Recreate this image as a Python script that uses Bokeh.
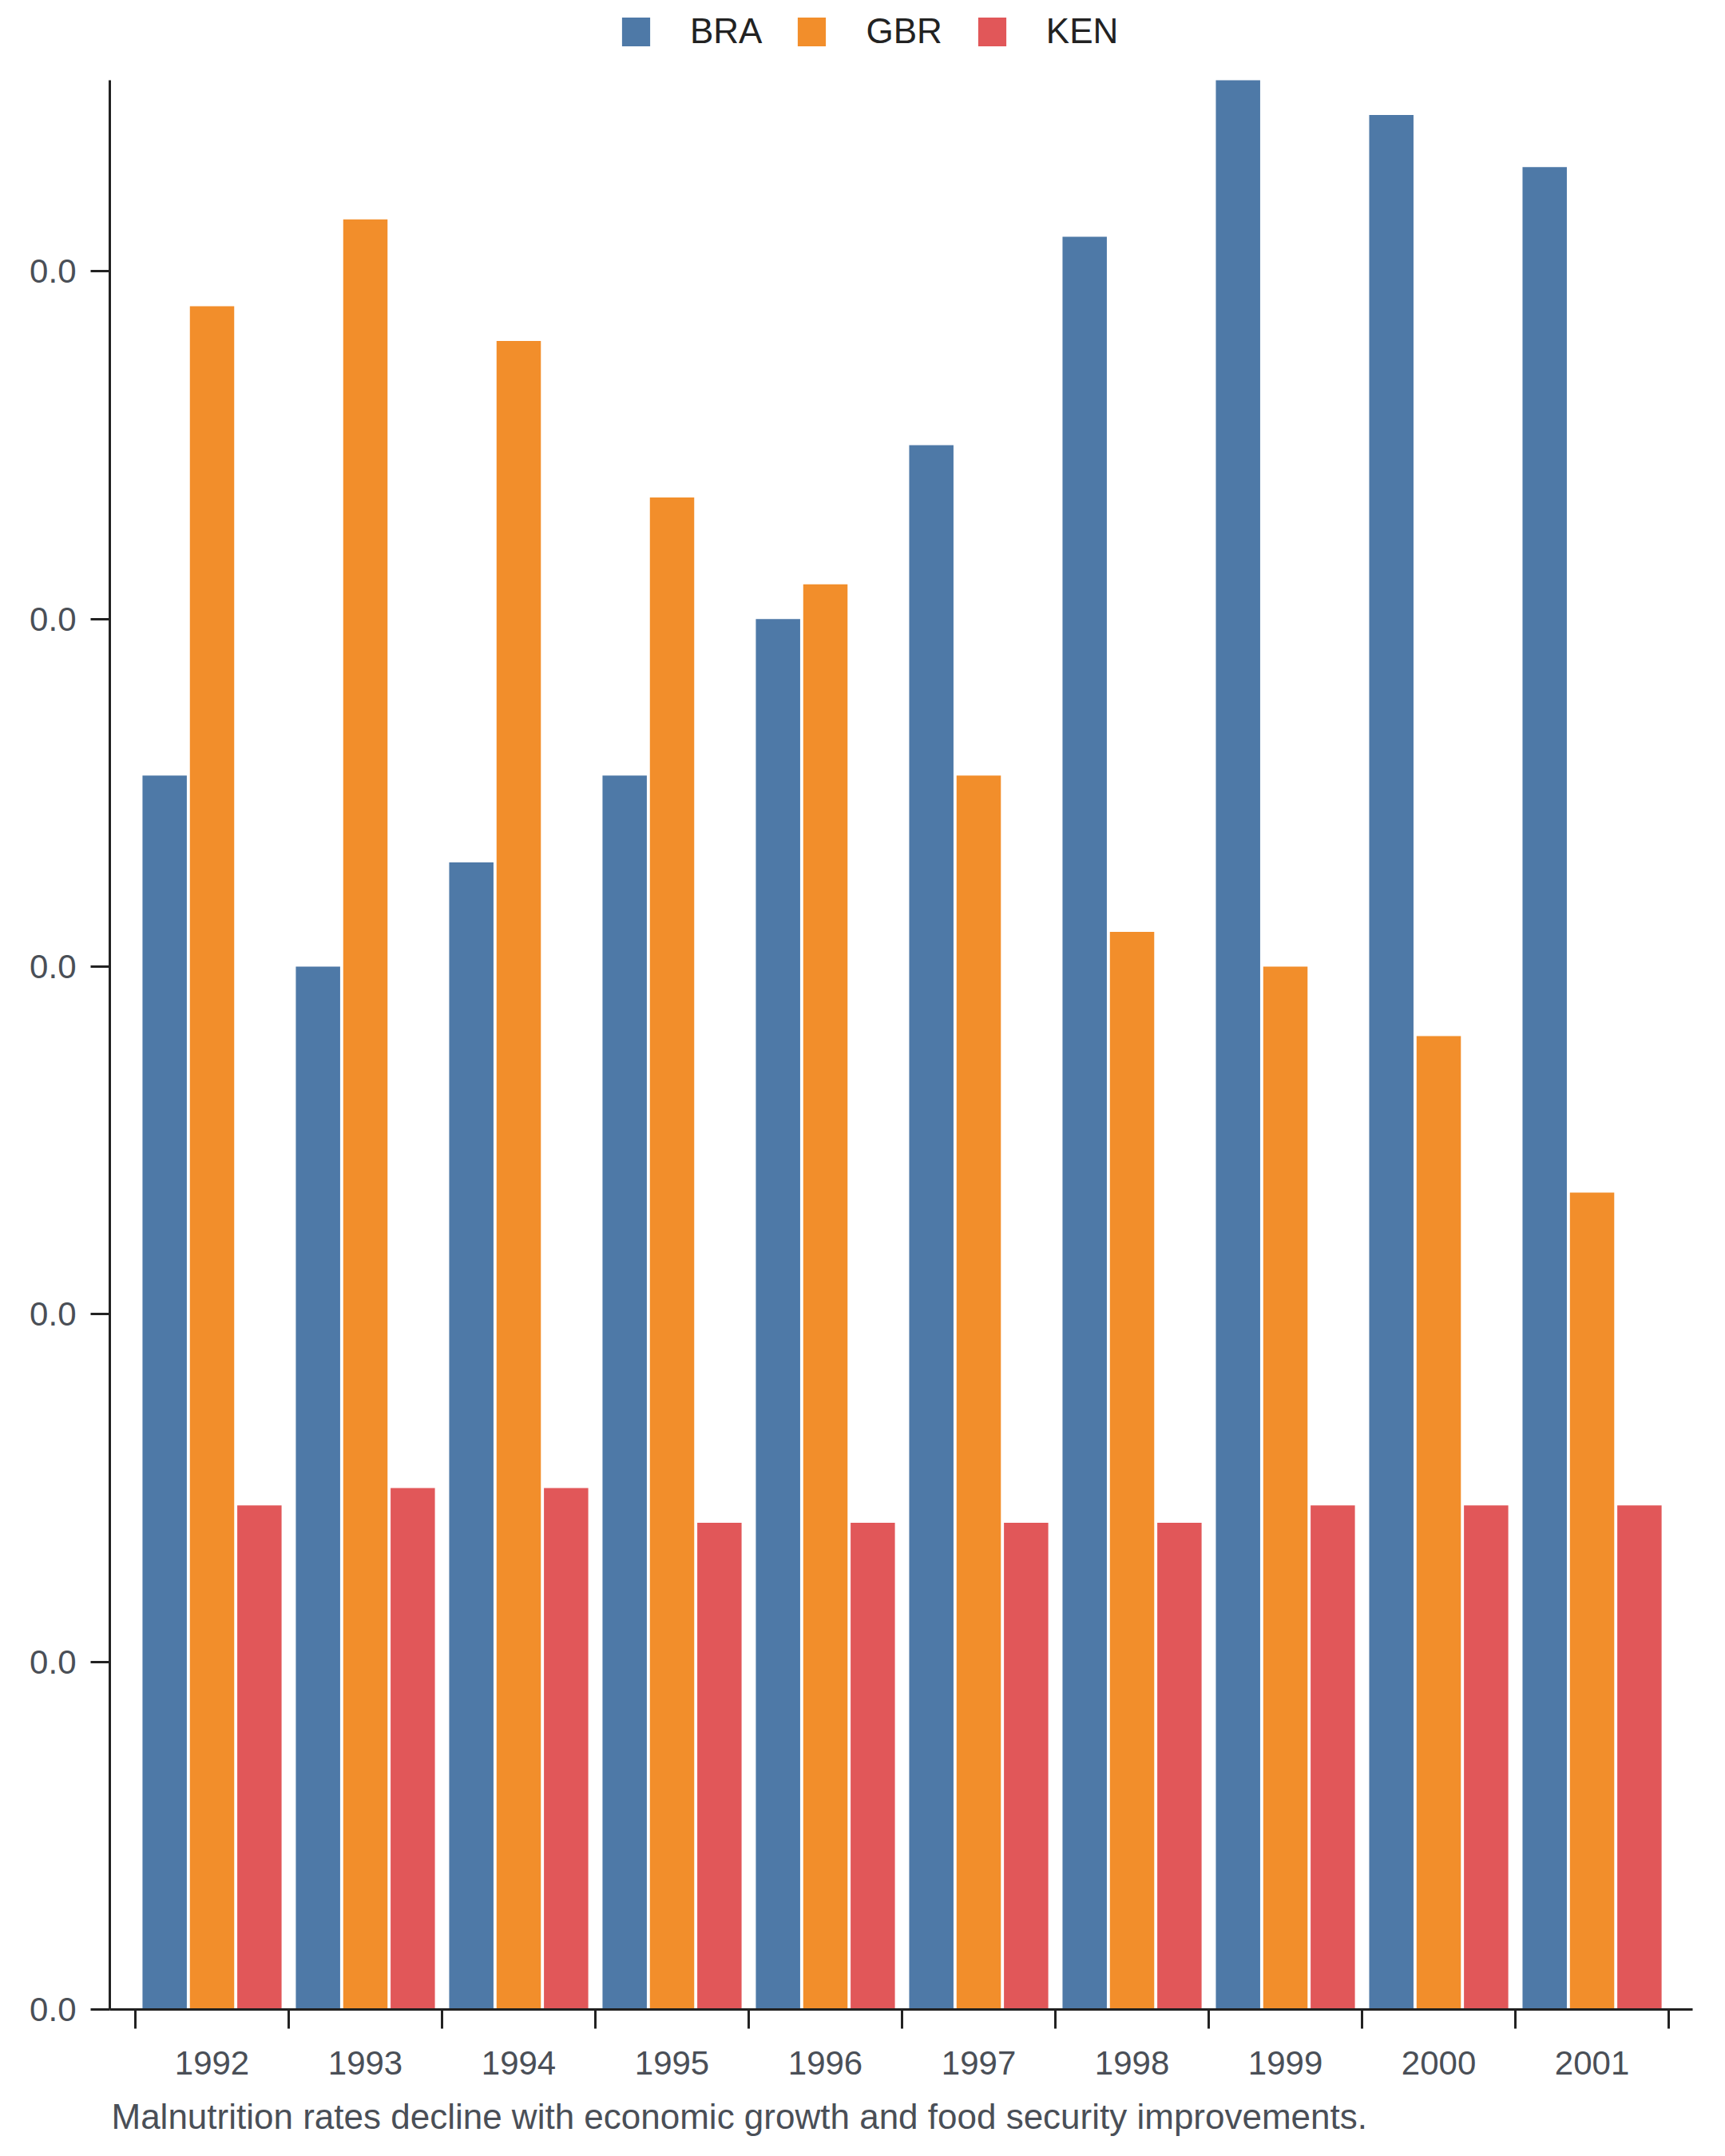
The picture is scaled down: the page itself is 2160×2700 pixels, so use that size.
from bokeh.plotting import figure
from bokeh.models import (ColumnDataSource, Range1d, FixedTicker, PrintfTickFormatter,
                          Title)
from bokeh.transform import dodge
from bokeh.embed import file_html
from bokeh.resources import INLINE

# ---- data ----
years = [1992, 1993, 1994, 1995, 1996, 1997, 1998, 1999, 2000, 2001]
bra = [0.00710, 0.00600, 0.00660, 0.00710, 0.00800, 0.00900, 0.01020, 0.01110, 0.01090, 0.01060]
gbr = [0.00980, 0.01030, 0.00960, 0.00870, 0.00820, 0.00710, 0.00620, 0.00600, 0.00560, 0.00470]
ken = [0.00290, 0.00300, 0.00300, 0.00280, 0.00280, 0.00280, 0.00280, 0.00290, 0.00290, 0.00290]
y_ticks = [0.0, 0.002, 0.004, 0.006, 0.008, 0.010]
series = ["BRA", "GBR", "KEN"]
colors = ["#4e79a7", "#f28e2b", "#e15759"]
caption = "Malnutrition rates decline with economic growth and food security improvements."

source = ColumnDataSource(dict(year=years, BRA=bra, GBR=gbr, KEN=ken))

FONT = "Liberation Sans"
AX = "#222222"
TXT = "#4a4f57"

PLOT_H = 2416      # height of the bar area in px
HEAD_H = 100       # room above the bar area for the legend
y_max = max(bra)

p = figure(frame_width=1982, frame_height=PLOT_H + HEAD_H, output_backend="svg",
           toolbar_location=None, title_location=None,
           x_range=Range1d(years[0] - 0.5 - 0.1667, years[-1] + 0.5 + 0.156),
           y_range=Range1d(0, y_max * (PLOT_H + HEAD_H) / PLOT_H),
           min_border_left=137, min_border_right=33, min_border_top=0, min_border_bottom=184)
p.outline_line_color = None
p.xgrid.visible = False
p.ygrid.visible = False
p.background_fill_color = "white"

offsets = [-0.309, 0.0, 0.309]
for name, col, off in zip(series, colors, offsets):
    p.vbar(x=dodge("year", off, range=p.x_range), top=name, width=0.289, bottom=0,
           source=source, fill_color=col, line_color=None, legend_label=name)

# x axis: labels at centres, ticks at boundaries (minor ticks)
xa = p.xaxis[0]
xa.ticker = FixedTicker(ticks=years, minor_ticks=[y - 0.5 for y in years] + [years[-1] + 0.5])
xa.major_tick_out = 0
xa.major_tick_in = 0
xa.minor_tick_out = 24
xa.minor_tick_in = 0
xa.minor_tick_line_width = 3
xa.minor_tick_line_color = AX
xa.axis_line_width = 3
xa.axis_line_color = AX
xa.major_label_text_font = FONT
xa.major_label_text_font_size = "42px"
xa.major_label_text_color = TXT
xa.major_label_standoff = 28

ya = p.yaxis[0]
ya.bounds = (0, y_max)
ya.ticker = FixedTicker(ticks=y_ticks)
ya.formatter = PrintfTickFormatter(format="%.1f")
ya.major_tick_out = 24
ya.major_tick_in = 0
ya.minor_tick_out = 0
ya.minor_tick_in = 0
ya.major_tick_line_width = 3
ya.major_tick_line_color = AX
ya.axis_line_width = 3
ya.axis_line_color = AX
ya.major_label_text_font = FONT
ya.major_label_text_font_size = "42px"
ya.major_label_text_color = TXT
ya.major_label_standoff = 18

leg = p.legend[0]
leg.orientation = "horizontal"
leg.glyph_width = 44
leg.glyph_height = 45
leg.label_standoff = 46
leg.spacing = 40
leg.padding = 0
leg.margin = 0
leg.location = (637, 2452)
leg.border_line_color = None
leg.background_fill_alpha = 0
leg.label_text_font = FONT
leg.label_text_font_size = "44px"
leg.label_text_color = "#222222"

cap = Title(text=caption, align="left", vertical_align="bottom", text_font=FONT,
            text_font_size="44px", text_font_style="normal", text_color=TXT,
            offset=2, standoff=46)
p.add_layout(cap, "below")

open("out.html", "w").write(file_html(p, INLINE))
